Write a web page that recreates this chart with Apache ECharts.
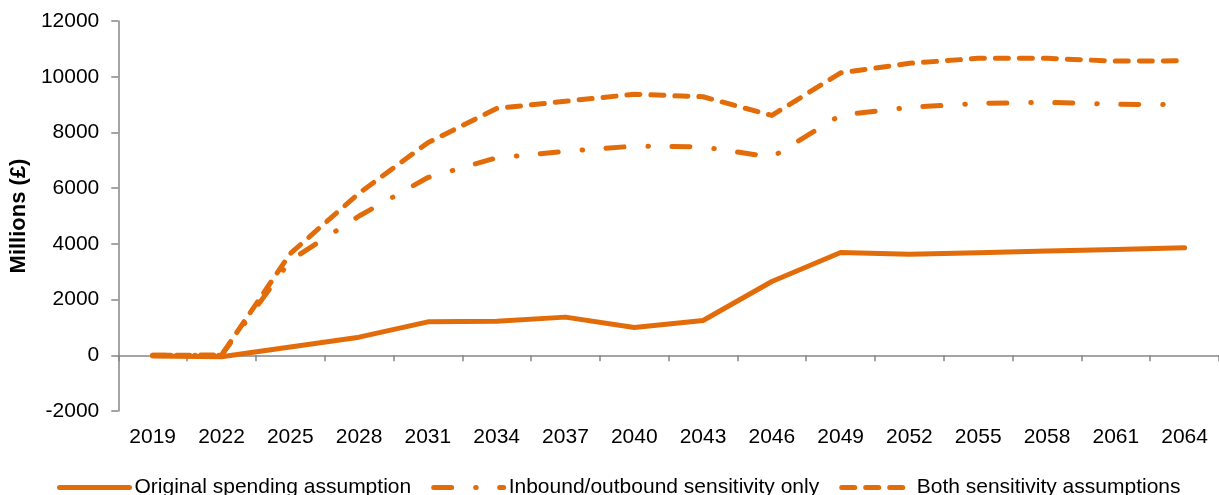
<!DOCTYPE html>
<html>
<head>
<meta charset="utf-8">
<script src="https://cdn.jsdelivr.net/npm/echarts@6/dist/echarts.min.js"></script>
<style>html,body{margin:0;padding:0;background:#fff}#c{width:1219px;height:495px}</style>
</head>
<body>
<div id="c"></div>
<script>
const years = ['2019','2022','2025','2028','2031','2034','2037','2040','2043','2046','2049','2052','2055','2058','2061','2064'];
const original = [-30, -50, 300, 650, 1200, 1220, 1370, 1000, 1250, 2650, 3690, 3630, 3680, 3740, 3800, 3860];
const inbound = [0, 0, 3400, 5000, 6380, 7090, 7320, 7510, 7480, 7110, 8620, 8900, 9040, 9080, 9010, 9000];
const both = [0, 10, 3650, 5820, 7630, 8860, 9120, 9370, 9280, 8610, 10140, 10480, 10660, 10660, 10560, 10570];
const yTicks = { min: -2000, max: 12000, interval: 2000 };
const names = ['Original spending assumption', 'Inbound/outbound sensitivity only', 'Both sensitivity assumptions'];

const color = '#E36C0A';
const font = 'Liberation Sans, Arial, sans-serif';
const chart = echarts.init(document.getElementById('c'), null, { renderer: 'canvas' });
chart.setOption({
  animation: false,
  color: [color, color, color],
  grid: { left: 117, top: 21, width: 1113, bottom: 84, containLabel: false },
  legend: {
    left: 52, top: 472, itemWidth: 70, itemHeight: 14, itemGap: 20,
    itemStyle: { opacity: 0 },
    lineStyle: { width: 5, cap: 'round' },
    textStyle: { fontFamily: font, fontSize: 21, color: '#000' },
    data: names
  },
  xAxis: [{
    type: 'category', data: years, boundaryGap: true,
    axisLine: { onZero: true, lineStyle: { color: '#868686', width: 1.5 } },
    axisTick: { show: true, length: 6, inside: false, alignWithLabel: false, lineStyle: { color: '#868686', width: 1.5 } },
    axisLabel: { show: false }
  }, {
    type: 'category', data: years, boundaryGap: true, position: 'bottom',
    axisLine: { show: false, onZero: false }, axisTick: { show: false },
    axisLabel: { margin: 16, fontFamily: font, fontSize: 21, color: '#000' }
  }],
  yAxis: {
    type: 'value', min: yTicks.min, max: yTicks.max, interval: yTicks.interval,
    name: 'Millions (£)', nameLocation: 'middle', nameGap: 80, nameRotate: 90,
    nameTextStyle: { fontFamily: font, fontSize: 22, fontWeight: 'bold', color: '#000' },
    axisLine: { show: true, lineStyle: { color: '#868686', width: 1.5 } },
    axisTick: { show: true, length: 7, lineStyle: { color: '#868686', width: 1.5 } },
    splitLine: { show: false },
    axisLabel: { margin: 19, fontFamily: font, fontSize: 21, color: '#000', formatter: v => String(v) }
  },
  series: [
    { name: names[0], type: 'line', data: original, symbol: 'none', xAxisIndex: 0,
      lineStyle: { width: 5, type: 'solid', cap: 'round', join: 'round' } },
    { name: names[1], type: 'line', data: inbound, symbol: 'none', xAxisIndex: 0,
      lineStyle: { width: 5, type: [18, 24, 0.5, 23.5], cap: 'round', join: 'round' } },
    { name: names[2], type: 'line', data: both, symbol: 'none', xAxisIndex: 0,
      lineStyle: { width: 5, type: [13, 11], cap: 'round', join: 'round' } }
  ]
});
</script>
</body>
</html>
